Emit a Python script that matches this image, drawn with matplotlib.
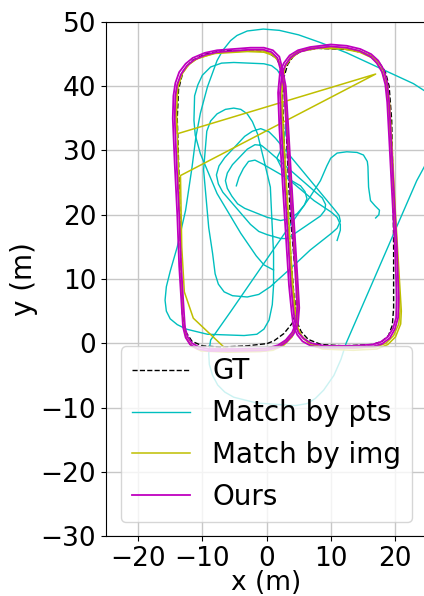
import numpy as np
import matplotlib.pyplot as plt

# trajectory points (x, y in metres)
gt_right = [(2.6, 41.0), (2.5, 38.0), (2.8, 30.0), (3.3, 20.0), (3.9, 12.0), (4.4, 6.0), (4.8, 3.2),
            (5.4, 1.8), (6.5, 0.6), (8.5, -0.2), (12.0, -0.4), (16.5, -0.2), (18.0, 0.3), (19.0, 1.2),
            (19.6, 2.8), (19.8, 5.5), (19.8, 15.0), (19.7, 25.0), (19.5, 34.7), (19.1, 40.0),
            (18.5, 42.3), (17.4, 43.9), (15.8, 45.0), (13.0, 45.7), (8.0, 45.9), (5.5, 45.5),
            (4.2, 44.7), (3.3, 43.4), (2.6, 41.0)]
gt_left = [(2.6, 41.0), (2.9, 38.0), (3.2, 30.0), (3.7, 20.0), (4.3, 13.0), (4.8, 9.8), (4.5, 4.6),
           (4.0, 3.1), (2.7, 1.5), (1.2, 0.4), (0.1, -0.05), (-3.0, -0.4), (-7.2, -0.6), (-10.0, -0.4),
           (-11.6, 0.3), (-12.6, 1.8), (-13.1, 4.5), (-13.4, 15.0), (-13.6, 25.0), (-13.9, 35.0),
           (-13.7, 39.5), (-13.0, 42.3), (-11.6, 44.0), (-9.5, 45.0), (-7.0, 45.5), (-2.0, 45.6),
           (0.2, 45.3), (1.6, 44.3), (2.3, 42.8), (2.6, 41.0)]

ours_right_1 = [(2.4, 42.0), (2.1, 39.0), (2.3, 33.6), (2.8, 25.0), (3.3, 17.0), (3.8, 9.0), (4.2, 5.0),
                (4.5, 2.8), (5.0, 1.6), (5.8, 0.7), (7.0, 0.0), (9.0, -0.4), (13.6, -0.4), (16.5, -0.2),
                (17.8, 0.2), (18.9, 1.0), (19.7, 2.3), (20.2, 4.0), (20.3, 7.0), (20.0, 15.0), (19.5, 24.3),
                (19.1, 32.0), (18.8, 37.5), (18.5, 40.3), (18.0, 42.2), (17.2, 43.6), (16.2, 44.6),
                (14.5, 45.5), (12.5, 46.0), (10.0, 46.2), (6.8, 45.8), (5.0, 45.3), (3.8, 44.5),
                (3.0, 43.4), (2.4, 42.0)]
ours_right_2 = [(2.1, 42.2), (1.8, 39.0), (2.0, 33.6), (2.5, 25.0), (3.0, 17.0), (3.5, 9.0), (3.9, 5.0),
                (4.2, 2.6), (4.8, 1.3), (5.6, 0.3), (6.9, -0.4), (9.0, -0.7), (13.6, -0.7), (16.6, -0.5),
                (18.0, -0.1), (19.2, 0.8), (20.0, 2.2), (20.5, 4.0), (20.6, 7.0), (20.3, 15.0), (19.8, 24.3),
                (19.4, 32.0), (19.1, 37.5), (18.8, 40.5), (18.3, 42.5), (17.4, 44.0), (16.3, 45.0),
                (14.6, 45.8), (12.5, 46.3), (10.0, 46.5), (6.8, 46.1), (4.9, 45.6), (3.6, 44.8),
                (2.7, 43.6), (2.1, 42.2)]
ours_left_1 = [(2.2, 42.5), (2.7, 40.0), (3.1, 33.6), (3.6, 25.0), (4.1, 17.0), (4.6, 9.0), (4.8, 5.5),
               (4.6, 3.2), (4.0, 1.7), (3.0, 0.5), (1.8, -0.3), (0.0, -0.8), (-5.0, -0.9), (-9.0, -0.9),
               (-10.5, -0.6), (-11.6, 0.0), (-12.3, 1.0), (-12.7, 2.5), (-12.9, 5.5), (-13.3, 12.0),
               (-13.6, 20.0), (-14.0, 28.0), (-14.3, 35.0), (-14.2, 38.5), (-13.9, 40.3), (-13.3, 41.9),
               (-12.4, 43.2), (-11.3, 44.1), (-9.5, 44.9), (-7.7, 45.3), (-2.5, 45.7), (-0.5, 45.7),
               (0.8, 45.3), (1.7, 44.4), (2.2, 42.5)]
ours_left_2 = [(2.5, 42.6), (3.0, 40.0), (3.4, 33.6), (3.9, 25.0), (4.4, 17.0), (4.9, 9.0), (5.1, 5.5),
               (4.9, 3.0), (4.2, 1.4), (3.1, 0.2), (1.9, -0.6), (0.0, -1.1), (-5.0, -1.2), (-9.0, -1.2),
               (-10.7, -0.9), (-11.9, -0.2), (-12.6, 0.9), (-13.0, 2.5), (-13.2, 5.5), (-13.6, 12.0),
               (-13.9, 20.0), (-14.3, 28.0), (-14.6, 35.0), (-14.5, 38.5), (-14.2, 40.5), (-13.6, 42.2),
               (-12.6, 43.5), (-11.5, 44.4), (-9.6, 45.2), (-7.7, 45.6), (-2.5, 46.0), (-0.4, 46.0),
               (1.0, 45.6), (2.0, 44.6), (2.5, 42.6)]

img_right_1 = [(2.5, 42.0), (2.2, 39.0), (2.4, 33.6), (2.9, 25.0), (3.4, 17.0), (3.9, 9.0), (4.3, 5.0),
               (4.7, 2.6), (5.4, 1.2), (6.6, 0.1), (8.5, -0.6), (13.5, -0.8), (17.0, -0.6), (18.6, 0.0),
               (19.8, 1.2), (20.6, 3.0), (20.8, 5.0), (20.5, 10.0), (19.9, 20.0), (19.4, 30.0),
               (19.0, 37.0), (18.6, 40.5), (17.8, 42.8), (16.5, 44.4), (14.5, 45.3), (12.0, 45.8),
               (8.0, 45.9), (5.2, 45.4), (3.8, 44.3), (2.9, 43.0), (2.5, 42.0)]
img_right_2 = [(2.7, 42.0), (2.4, 39.0), (2.6, 33.6), (3.1, 25.0), (3.6, 17.0), (4.1, 9.0), (4.5, 5.0),
               (4.9, 2.4), (5.6, 0.9), (6.8, -0.2), (8.7, -0.9), (13.5, -1.1), (17.2, -0.9), (18.9, -0.2),
               (20.1, 1.0), (20.9, 3.0), (21.0, 5.0), (20.7, 10.0), (20.1, 20.0), (19.6, 30.0),
               (19.2, 37.0), (18.8, 40.6), (18.0, 43.0), (16.6, 44.6), (14.5, 45.5), (12.0, 46.0),
               (8.0, 46.1), (5.1, 45.6), (3.7, 44.5), (2.9, 43.2), (2.7, 42.0)]
img_left_1 = [(2.3, 42.5), (2.8, 40.0), (3.2, 33.6), (3.7, 25.0), (4.2, 17.0), (4.7, 9.0), (4.9, 5.5),
              (4.7, 3.0), (3.9, 1.3), (2.6, 0.0), (1.0, -0.8), (-1.0, -1.0), (-6.1, -1.1), (-11.4, 3.9),
              (-12.8, 8.0), (-13.2, 15.0), (-13.4, 26.1), (17.0, 41.9), (-13.9, 32.6), (-14.2, 36.0),
              (-14.0, 39.5), (-13.4, 41.6), (-12.3, 43.2), (-11.0, 44.2), (-8.0, 45.2), (-3.0, 45.5),
              (-0.5, 45.5), (0.9, 45.0), (1.8, 44.1), (2.3, 42.5)]
img_left_2 = [(2.4, 42.5), (2.9, 40.0), (3.3, 33.6), (3.8, 25.0), (4.3, 17.0), (4.8, 9.0), (5.0, 5.5),
              (4.8, 2.8), (4.0, 1.0), (2.7, -0.3), (1.0, -1.1), (-1.0, -1.3), (-6.0, -1.4), (-10.2, -1.2),
              (-11.6, -0.5), (-12.5, 0.8), (-13.0, 3.0), (-13.2, 8.0), (-13.5, 20.0), (-13.8, 30.0),
              (-14.0, 36.0), (-13.8, 39.8), (-13.1, 42.0), (-12.0, 43.5), (-10.6, 44.4), (-8.0, 45.1),
              (-3.0, 45.4), (-0.4, 45.3), (1.0, 44.8), (1.9, 43.9), (2.4, 42.5)]

pts_outer = [(26.5, 31.0), (27.0, 36.0), (24.6, 39.3), (22.9, 40.4), (17.7, 42.8), (12.5, 45.2),
             (8.4, 46.8), (5.0, 48.0), (2.0, 48.7), (-0.5, 48.9), (-3.0, 48.6), (-4.6, 47.9),
             (-5.6, 47.1), (-6.8, 45.6), (-7.7, 44.0), (-9.2, 39.9), (-10.3, 35.8), (-11.0, 32.1),
             (-11.6, 27.4), (-12.6, 20.7), (-13.9, 15.0), (-15.0, 11.2), (-15.6, 8.8), (-15.8, 6.7),
             (-15.6, 5.0), (-15.0, 3.8), (-13.9, 2.9), (-12.5, 2.2), (-9.2, 1.4), (-3.5, 1.2),
             (-1.5, 1.4), (-0.4, 2.2), (0.4, 3.6), (0.9, 6.0), (1.1, 9.0), (1.1, 14.0), (0.8, 20.0),
             (0.6, 24.3), (-0.4, 28.5), (-1.4, 32.6), (-2.2, 34.5), (-3.0, 35.7), (-4.0, 36.4),
             (-5.1, 36.6), (-6.4, 36.4), (-7.7, 35.7), (-8.7, 34.6), (-9.3, 33.0), (-9.8, 27.0),
             (-9.0, 18.0), (-8.4, 14.0), (-8.0, 10.8), (-7.5, 9.2), (-6.6, 8.0), (-5.3, 7.4),
             (-3.0, 7.2), (-1.2, 7.6), (0.6, 8.8), (3.7, 11.6), (6.8, 14.5), (10.1, 17.1), (11.0, 17.9),
             (11.5, 19.0), (11.3, 19.9), (10.6, 20.8), (1.4, 31.9), (0.4, 32.9), (-0.9, 33.4),
             (-2.2, 33.0), (-3.4, 32.2), (-6.5, 28.9), (-7.4, 27.6), (-7.8, 26.2), (-7.5, 24.8),
             (-6.8, 23.5), (-2.5, 18.5), (-1.2, 17.4), (0.1, 16.9), (2.2, 16.3), (3.2, 16.3), (4.0, 16.8),
             (8.4, 19.8), (9.1, 20.7), (9.2, 21.6), (8.7, 22.6), (0.2, 30.0), (-0.8, 30.8), (-1.8, 30.9),
             (-3.0, 30.2), (-5.3, 27.8), (-6.1, 26.5), (-6.4, 25.3), (-6.1, 24.1), (-5.4, 22.9),
             (-4.5, 21.7), (-3.4, 21.0), (0.1, 19.6), (2.2, 19.1), (3.6, 19.4), (4.8, 20.2), (5.9, 21.5),
             (6.3, 22.5), (6.0, 23.6), (5.3, 24.5), (-0.6, 27.9), (-1.8, 28.5), (-2.8, 28.3), (-3.6, 27.2),
             (-4.3, 25.8), (-4.7, 24.5)]

pts_upper = [(1.1, 11.4), (-0.4, 12.2), (-1.6, 13.6), (-4.0, 17.1), (-7.7, 23.3), (-10.3, 29.5),
             (-11.1, 32.4), (-11.3, 34.7), (-11.2, 38.5), (-10.7, 40.2), (-10.0, 41.7), (-8.7, 43.0),
             (-7.0, 43.6), (-5.1, 43.7), (-0.4, 43.5), (0.8, 43.2), (1.7, 42.5), (2.4, 41.4), (2.8, 40.0),
             (3.2, 36.0), (2.9, 32.5), (2.2, 30.0), (1.6, 28.8), (2.4, 27.2), (3.7, 25.3), (7.4, 22.2),
             (10.1, 20.4), (11.0, 19.6), (11.5, 18.5), (11.5, 17.6), (11.0, 16.0)]

pts_tail = [(26.5, 31.0), (23.4, 25.3), (12.4, 0.0), (11.6, -2.5), (10.5, -5.0), (8.9, -7.3),
            (7.6, -8.6), (6.3, -9.4), (4.5, -9.7), (2.7, -9.6), (-1.5, -9.3), (-5.1, -8.4), (-6.5, -7.6),
            (-7.6, -6.5), (-8.4, -5.0), (-8.9, -3.3), (-9.0, -1.6), (-8.7, 0.5), (-5.6, 4.9), (4.2, 19.1),
            (6.8, 22.8), (8.4, 25.3), (9.4, 27.6), (10.0, 28.8), (11.0, 29.6), (12.5, 29.8), (14.1, 29.7),
            (15.1, 29.3), (15.7, 28.3), (15.8, 27.5), (15.9, 24.3), (16.2, 22.2), (16.9, 21.4),
            (17.6, 20.7), (17.5, 20.0), (17.0, 19.5)]

x_ticks = [-20, -10, 0, 10, 20]
y_ticks = [-30, -20, -10, 0, 10, 20, 30, 40, 50]


def xy(pts):
    a = np.array(pts)
    return a[:, 0], a[:, 1]


fig = plt.figure(figsize=(4.24, 5.96), dpi=100)
ax = fig.add_axes([106 / 424, 60 / 596, 321 / 424, 514 / 596])

ax.plot(*xy(gt_right), 'k--', lw=1.0, label='GT')
ax.plot(*xy(gt_left), 'k--', lw=1.0)
ax.plot(*xy(pts_outer), color='c', lw=1.0, label='Match by pts')
ax.plot(*xy(pts_upper), color='c', lw=1.0)
ax.plot(*xy(pts_tail), color='c', lw=1.0)
ax.plot(*xy(img_left_1), color='y', lw=1.1, label='Match by img')
for seg in (img_left_2, img_right_1, img_right_2):
    ax.plot(*xy(seg), color='y', lw=1.1)
ax.plot(*xy(ours_left_1), color='m', lw=1.3, label='Ours')
for seg in (ours_left_2, ours_right_1, ours_right_2):
    ax.plot(*xy(seg), color='m', lw=1.3)

ax.set_xlim(-25, 25)
ax.set_ylim(-30, 50)
ax.set_xticks(x_ticks)
ax.set_yticks(y_ticks)
ax.tick_params(labelsize=19)
ax.set_xlabel('x (m)', fontsize=19, labelpad=-1)
ax.set_ylabel('y (m)', fontsize=20, labelpad=2)
ax.grid(True, color='0.78', lw=1.0)
ax.legend(loc='lower center', fontsize=20, handlelength=2.1)

fig.savefig('out.png', dpi=100)
